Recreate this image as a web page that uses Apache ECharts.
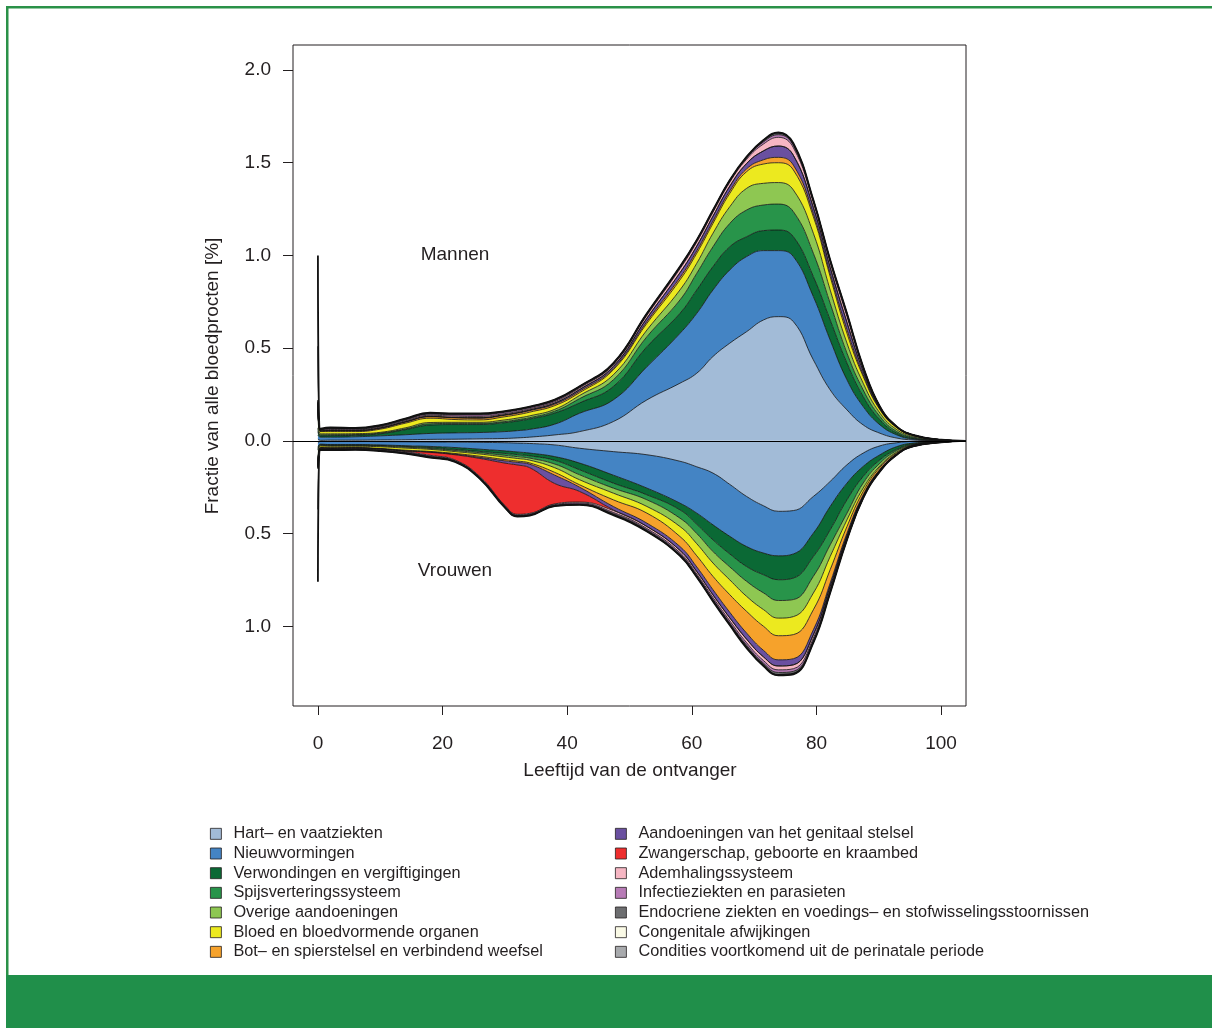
<!DOCTYPE html>
<html><head><meta charset="utf-8">
<script src="https://cdn.jsdelivr.net/npm/echarts@6/dist/echarts.min.js"></script>
<style>html,body{margin:0;padding:0;background:#fff}#c{width:1212px;height:1028px}</style>
</head><body><div id="c"></div>
<script>
// Age of recipient (years)
const ages = [0, 0.4, 2, 6, 10, 14, 18, 22, 26, 30, 32, 34, 38, 42, 47.4, 52.8, 58.1, 60.8, 63.4, 66.1, 68.8, 71.5, 73.9, 76.3, 79.5, 82.2, 84.9, 87.5, 90.2, 92.9, 95.5, 100, 104];

// Category names (legend order)
const names = [
  'Hart\u2013 en vaatziekten',
  'Nieuwvormingen',
  'Verwondingen en vergiftigingen',
  'Spijsverteringssysteem',
  'Overige aandoeningen',
  'Bloed en bloedvormende organen',
  'Bot\u2013 en spierstelsel en verbindend weefsel',
  'Aandoeningen van het genitaal stelsel',
  'Zwangerschap, geboorte en kraambed',
  'Ademhalingssysteem',
  'Infectieziekten en parasieten',
  'Endocriene ziekten en voedings\u2013 en stofwisselingsstoornissen',
  'Congenitale afwijkingen',
  'Condities voortkomend uit de perinatale periode'
];

// Mannen (fraction of all blood products, %)
const hartM    = [0.01,0.003,0.004,0.004,0.005,0.006,0.008,0.009,0.011,0.013,0.016,0.02,0.032,0.05,0.104,0.221,0.311,0.365,0.455,0.527,0.589,0.652,0.67,0.643,0.437,0.275,0.167,0.086,0.041,0.015,0.005,0.001,0];
const nieuwM   = [0.02,0.017,0.016,0.018,0.022,0.027,0.032,0.034,0.034,0.037,0.039,0.042,0.058,0.099,0.117,0.179,0.269,0.323,0.359,0.395,0.405,0.374,0.356,0.351,0.341,0.269,0.162,0.099,0.045,0.017,0.005,0.001,0];
const verwM    = [0.02,0.007,0.008,0.008,0.011,0.027,0.045,0.045,0.043,0.048,0.052,0.056,0.06,0.056,0.072,0.108,0.108,0.126,0.126,0.125,0.107,0.108,0.111,0.107,0.108,0.108,0.09,0.054,0.027,0.009,0.005,0.001,0];
const spijsM   = [0.02,0.005,0.005,0.004,0.004,0.004,0.007,0.006,0.006,0.006,0.007,0.007,0.01,0.023,0.036,0.054,0.072,0.09,0.107,0.126,0.144,0.138,0.14,0.135,0.126,0.09,0.054,0.036,0.018,0.009,0.005,0.001,0];
const overigeM = [0.1,0.006,0.005,0.005,0.004,0.006,0.007,0.006,0.006,0.009,0.009,0.01,0.01,0.017,0.027,0.036,0.054,0.054,0.073,0.09,0.117,0.117,0.116,0.117,0.108,0.072,0.054,0.036,0.018,0.01,0.005,0.001,0];
const bloedM   = [0.03,0.012,0.012,0.011,0.017,0.025,0.023,0.015,0.013,0.017,0.018,0.02,0.02,0.015,0.027,0.036,0.054,0.054,0.053,0.072,0.09,0.104,0.107,0.108,0.089,0.072,0.053,0.036,0.018,0.01,0.005,0.001,0];
const botM     = [0.005,0.003,0.004,0.004,0.005,0.006,0.008,0.009,0.009,0.008,0.008,0.008,0.008,0.008,0.007,0.01,0.013,0.013,0.013,0.013,0.015,0.023,0.029,0.026,0.017,0.017,0.02,0.01,0.004,0.002,0.001,0,0];
const genM     = [0.002,0.001,0.002,0.002,0.002,0.002,0.002,0.002,0.003,0.003,0.003,0.004,0.006,0.009,0.011,0.018,0.026,0.026,0.026,0.026,0.029,0.048,0.061,0.053,0.033,0.033,0.039,0.019,0.006,0.002,0.001,0,0];
const zwM      = [0,0,0,0,0,0,0,0,0,0,0,0,0,0,0,0,0,0,0,0,0,0,0,0,0,0,0,0,0,0,0,0,0];
const ademM    = [0.005,0.003,0.005,0.004,0.005,0.005,0.006,0.007,0.007,0.006,0.006,0.006,0.007,0.008,0.009,0.015,0.021,0.021,0.021,0.021,0.023,0.037,0.047,0.041,0.026,0.026,0.031,0.015,0.005,0.002,0,0,0];
const infM     = [0.005,0.003,0.004,0.004,0.004,0.005,0.006,0.007,0.008,0.007,0.007,0.006,0.006,0.005,0.004,0.005,0.006,0.006,0.006,0.006,0.007,0.011,0.014,0.012,0.008,0.008,0.009,0.004,0.001,0.001,0,0,0];
const endM     = [0.003,0.002,0.003,0.003,0.003,0.004,0.005,0.005,0.005,0.004,0.004,0.004,0.003,0.003,0.003,0.004,0.004,0.004,0.004,0.004,0.005,0.008,0.009,0.008,0.005,0.005,0.006,0.003,0.001,0,0,0,0];
const conM     = [0.29,0.002,0.003,0.002,0.002,0.002,0.002,0.002,0.002,0.001,0.001,0.001,0.001,0.001,0.001,0.001,0.001,0.001,0.001,0.001,0.001,0.002,0.002,0.002,0.001,0.001,0.002,0.001,0,0,0,0,0];
const perM     = [0.49,0.001,0.001,0.001,0.001,0.001,0.001,0.001,0.001,0.001,0.001,0.001,0.001,0.001,0.001,0.001,0.001,0.001,0.001,0.001,0.001,0.001,0.002,0.002,0.001,0.001,0.001,0.001,0,0,0,0,0];

// Vrouwen (fraction of all blood products, %, drawn downward)
const hartF    = [0.01,0.003,0.003,0.003,0.004,0.005,0.006,0.007,0.008,0.01,0.012,0.014,0.022,0.04,0.058,0.075,0.11,0.14,0.174,0.235,0.3,0.35,0.38,0.376,0.3,0.219,0.129,0.066,0.027,0.01,0.003,0.001,0];
const nieuwF   = [0.02,0.015,0.017,0.017,0.018,0.021,0.024,0.029,0.037,0.044,0.048,0.052,0.063,0.08,0.127,0.18,0.226,0.25,0.279,0.28,0.27,0.255,0.24,0.234,0.198,0.135,0.099,0.072,0.048,0.021,0.009,0.002,0];
const verwF    = [0.01,0.003,0.003,0.003,0.003,0.004,0.006,0.01,0.012,0.014,0.014,0.015,0.02,0.036,0.043,0.036,0.036,0.06,0.081,0.095,0.108,0.117,0.129,0.13,0.126,0.126,0.09,0.054,0.027,0.014,0.005,0.001,0];
const spijsF   = [0.01,0.003,0.003,0.003,0.003,0.004,0.005,0.006,0.007,0.01,0.011,0.012,0.02,0.027,0.027,0.027,0.045,0.05,0.063,0.07,0.08,0.098,0.112,0.116,0.107,0.081,0.072,0.036,0.018,0.007,0.003,0.001,0];
const overigeF = [0.06,0.004,0.003,0.003,0.004,0.005,0.005,0.006,0.007,0.009,0.01,0.011,0.02,0.027,0.027,0.036,0.045,0.055,0.062,0.07,0.081,0.09,0.095,0.092,0.09,0.063,0.036,0.027,0.015,0.008,0.002,0.001,0];
const bloedF   = [0.02,0.008,0.008,0.007,0.009,0.011,0.011,0.01,0.012,0.014,0.014,0.015,0.025,0.027,0.036,0.036,0.054,0.065,0.072,0.08,0.081,0.09,0.095,0.097,0.09,0.071,0.036,0.018,0.007,0.005,0.002,0,0];
const botF     = [0.005,0.002,0.002,0.002,0.002,0.003,0.003,0.004,0.006,0.007,0.007,0.007,0.015,0.013,0.036,0.054,0.054,0.06,0.072,0.095,0.117,0.13,0.13,0.13,0.108,0.072,0.036,0.018,0.011,0.005,0.002,0.001,0];
const genF     = [0.005,0.001,0.001,0.001,0.001,0.002,0.002,0.003,0.006,0.012,0.014,0.019,0.045,0.023,0.018,0.018,0.021,0.025,0.028,0.03,0.033,0.035,0.033,0.033,0.027,0.018,0.014,0.007,0.004,0.002,0.001,0,0];
const zwF      = [0,0,0,0,0,0.003,0.016,0.028,0.098,0.228,0.266,0.246,0.11,0.057,0.004,0,0,0,0,0,0,0,0,0,0,0,0,0,0,0,0,0,0];
const ademF    = [0.005,0.003,0.003,0.003,0.004,0.004,0.004,0.004,0.004,0.004,0.004,0.004,0.004,0.005,0.01,0.011,0.012,0.013,0.014,0.016,0.019,0.02,0.021,0.021,0.018,0.013,0.009,0.005,0.003,0.001,0.001,0.001,0];
const infF     = [0.003,0.003,0.003,0.003,0.003,0.003,0.004,0.003,0.004,0.004,0.004,0.004,0.004,0.005,0.006,0.007,0.008,0.008,0.01,0.011,0.013,0.014,0.014,0.014,0.012,0.01,0.006,0.003,0.002,0.001,0.001,0,0];
const endF     = [0.002,0.002,0.002,0.002,0.002,0.002,0.002,0.001,0.002,0.002,0.002,0.002,0.002,0.003,0.005,0.006,0.006,0.006,0.007,0.008,0.01,0.01,0.011,0.011,0.009,0.008,0.005,0.002,0.002,0.001,0.001,0,0];
const conF     = [0.22,0.002,0.001,0.001,0.001,0.001,0.001,0.001,0.001,0.001,0.001,0.001,0.001,0.001,0.002,0.002,0.002,0.002,0.002,0.003,0.003,0.003,0.003,0.003,0.002,0.003,0.001,0.001,0.001,0,0,0,0];
const perF     = [0.39,0.001,0.001,0.001,0.001,0.001,0.001,0.001,0.001,0.001,0.001,0.001,0.001,0.001,0.002,0.001,0.001,0.001,0.002,0.002,0.003,0.003,0.002,0.002,0.002,0.002,0.001,0,0,0,0,0,0];

const yTicks = [-1, -0.5, 0, 0.5, 1, 1.5, 2];
const xTicks = [0, 20, 40, 60, 80, 100];

const colors = ['#a2bbd7','#4484c4','#0b6935','#28944a','#8ec752','#ece91f','#f6a22b','#6a50a0','#ee2e2e','#f6b6c3','#b77bb6','#6d6e70','#fafae6','#a8aaad'];
const maleSets = [hartM, nieuwM, verwM, spijsM, overigeM, bloedM, botM, genM, zwM, ademM, infM, endM, conM, perM];
const femaleSets = [hartF, nieuwF, verwF, spijsF, overigeF, bloedF, botF, genF, zwF, ademF, infF, endF, conF, perF];

const FONT = '"Liberation Sans", Arial, Helvetica, sans-serif';
const TXT = '#231f20';

const series = [];
function mk(name, k, vals, stack, sign) {
  const w = k === 13 ? 1.8 : (k >= 11 ? 1.1 : 0.8);
  return {
    name: name, type: 'line', stack: stack, smooth: 0.45,
    symbol: 'none', color: colors[k], itemStyle: {color: colors[k]},
    lineStyle: {color: '#111', width: w},
    areaStyle: {color: colors[k], opacity: 1},
    emphasis: {disabled: true},
    // value first so that the stacked dimension is the value (y), age second
    encode: {x: 1, y: 0},
    data: ages.map((a, i) => [sign * vals[i], a])
  };
}
names.forEach((n, k) => series.push(mk(n, k, maleSets[k], 'man', 1)));
names.forEach((n, k) => series.push(mk(n, k, femaleSets[k], 'vrouw', -1)));
series[0].markLine = {
  silent: true, symbol: 'none', label: {show: false}, animation: false, z: 10,
  lineStyle: {color: '#000', width: 1.2, type: 'solid'},
  data: [{yAxis: 0}]
};

const legendCommon = {
  orient: 'vertical', icon: 'rect', itemWidth: 11, itemHeight: 11, itemGap: 0, padding: 0,
  selectedMode: false,
  itemStyle: {borderColor: '#231f20', borderWidth: 0.8},
  textStyle: {fontFamily: FONT, fontSize: 16.3, color: TXT, lineHeight: 19.67, padding: [0, 0, 0, 7]}
};

const option = {
  animation: false,
  backgroundColor: '#fff',
  grid: {left: 293, top: 45, width: 673, height: 661, show: true, borderColor: '#231f20', borderWidth: 1, backgroundColor: 'transparent'},
  xAxis: {
    type: 'value', min: -4, max: 104,
    axisLine: {show: false, onZero: false}, splitLine: {show: false},
    axisTick: {show: true, length: 9, customValues: xTicks, lineStyle: {color: TXT}},
    axisLabel: {customValues: xTicks, fontFamily: FONT, fontSize: 19, color: TXT, margin: 28}
  },
  yAxis: {
    type: 'value', min: -1.43, max: 2.135,
    axisLine: {show: false, onZero: false}, splitLine: {show: false},
    axisTick: {show: true, length: 10, customValues: yTicks, lineStyle: {color: TXT}},
    axisLabel: {customValues: yTicks, formatter: v => Math.abs(v).toFixed(1), fontFamily: FONT, fontSize: 19, color: TXT, margin: 22}
  },
  legend: [
    Object.assign({left: 210, top: 824, data: names.slice(0, 7)}, legendCommon),
    Object.assign({left: 615, top: 824, data: names.slice(7)}, legendCommon)
  ],
  graphic: [
    {type: 'rect', shape: {x: 6, y: 6, width: 1206, height: 2.5}, style: {fill: '#2a9148'}, silent: true},
    {type: 'rect', shape: {x: 6, y: 6, width: 2.5, height: 1022}, style: {fill: '#2a9148'}, silent: true},
    {type: 'rect', shape: {x: 6, y: 975, width: 1206, height: 53}, style: {fill: '#208f4a'}, silent: true},
    {type: 'text', x: 455, y: 255, z: 20, style: {text: 'Mannen', font: '19px ' + FONT, fill: TXT, textAlign: 'center', textVerticalAlign: 'middle'}, silent: true},
    {type: 'text', x: 455, y: 571, z: 20, style: {text: 'Vrouwen', font: '19px ' + FONT, fill: TXT, textAlign: 'center', textVerticalAlign: 'middle'}, silent: true},
    {type: 'text', x: 630, y: 771, style: {text: 'Leeftijd van de ontvanger', font: '19px ' + FONT, fill: TXT, textAlign: 'center', textVerticalAlign: 'middle'}, silent: true},
    {type: 'text', x: 213, y: 376, rotation: Math.PI / 2, style: {text: 'Fractie van alle bloedprocten [%]', font: '19px ' + FONT, fill: TXT, textAlign: 'center', textVerticalAlign: 'middle'}, silent: true}
  ],
  series: series
};

const chart = echarts.init(document.getElementById('c'), null, {renderer: 'canvas'});
chart.setOption(option);
</script></body></html>
